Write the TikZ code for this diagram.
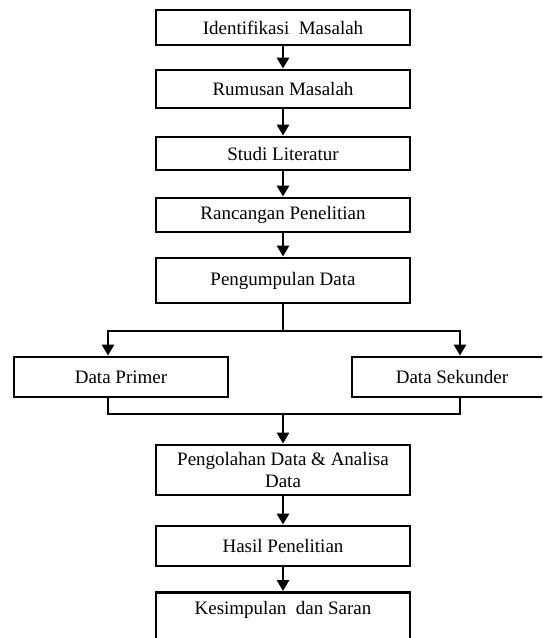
\documentclass[tikz,border=0pt]{standalone}
\usepackage{fontspec}
\setmainfont{Liberation Serif}
\usetikzlibrary{arrows.meta,calc}
\begin{document}
\begin{tikzpicture}[x=1pt,y=-1pt,
  box/.style={draw=black,line width=2.8pt,minimum width=254pt,inner sep=0pt,font=\fontsize{19}{21.5}\selectfont,align=center},
  wire/.style={line width=2.8pt},
  arr/.style={line width=2.8pt,-{Triangle[width=12pt,length=11pt]}}]
\useasboundingbox (0,0) rectangle (542,638);
\clip (0,0) rectangle (542,638);
\node[box,minimum height=35pt] (b1) at (283,27.5) {Identifikasi\ \ Masalah};
\node[box,minimum height=38pt] (b2) at (283,89) {Rumusan Masalah};
\node[box,minimum height=33pt] (b3) at (283,153.5) {Studi Literatur};
\node[box,minimum height=34pt] (b4) at (283,215) {Rancangan Penelitian};
\node[box,minimum height=45pt] (b5) at (283,280.5) {Pengumpulan Data};
\node[box,minimum width=214pt,minimum height=40pt] (dp) at (121,377) {Data Primer};
\node[box,minimum width=216pt,minimum height=40pt] (ds) at (460,377) {\hspace*{-16pt}Data Sekunder};
\node[box,minimum height=50pt] (b6) at (283,470) {Pengolahan Data \& Analisa\\Data};
\node[box,minimum height=40pt] (b7) at (283,546) {Hasil Penelitian};
\node[box,anchor=north,inner ysep=9pt,text depth=50pt] (b8) at (283,591) {Kesimpulan\ \ dan Saran};
\draw[arr] (b1) -- (b2);
\draw[arr] (b2) -- (b3);
\draw[arr] (b3) -- (b4);
\draw[arr] (b4) -- (b5);
\coordinate (split) at (283,331);
\coordinate (lin) at (108,331);
\coordinate (rin) at (460,331);
\draw[wire] (b5) -- (split);
\draw[arr] (split) -| (lin |- dp.north);
\draw[arr] (split) -| (rin |- ds.north);
\coordinate (lout) at (108,414);
\coordinate (rout) at (460,414);
\coordinate (merge) at (283,414);
\draw[wire] (lout |- dp.south) -- (lout) -- (rout) -- (rout |- ds.south);
\draw[arr] (merge) -- (b6);
\draw[arr] (b6) -- (b7);
\draw[arr] (b7) -- (b8);
\end{tikzpicture}
\end{document}
